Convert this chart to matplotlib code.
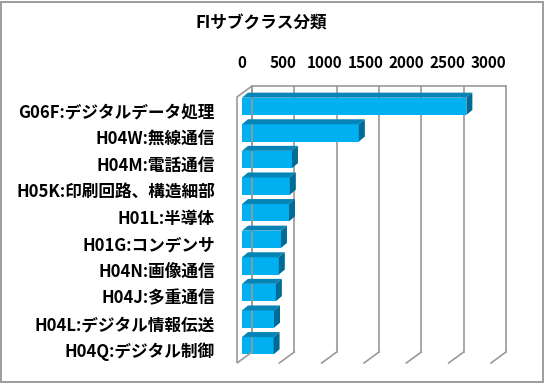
import matplotlib
matplotlib.use("Agg")
import matplotlib.pyplot as plt
import matplotlib.transforms as mtransforms
from matplotlib.patches import Polygon, Rectangle

plt.rcParams['font.family'] = ['Noto Sans CJK JP', 'DejaVu Sans']

categories = ["G06F:デジタルデータ処理", "H04W:無線通信", "H04M:電話通信",
              "H05K:印刷回路、構造細部", "H01L:半導体", "H01G:コンデンサ",
              "H04N:画像通信", "H04J:多重通信", "H04L:デジタル情報伝送",
              "H04Q:デジタル制御"]
counts = [2650, 1380, 590, 565, 555, 460, 435, 400, 378, 373]
ticks = [0, 500, 1000, 1500, 2000, 2500, 3000]
title = "FIサブクラス分類"

W, H = 544, 383
fig = plt.figure(figsize=(W / 100, H / 100), dpi=100)
ax = fig.add_axes([237 / W, 20 / H, 254 / W, 266 / H])
ax.set_xlim(0, 3000)
ax.set_ylim(len(categories) - 0.5, -0.5)
for s in ax.spines.values():
    s.set_visible(False)
ax.patch.set_visible(False)

# wall depth (back wall offset) and bar offsets, in pixels
wdx, wdy = 15, 11
bdx, bdy = 5, 4
ddx, ddy = 6, 5

grid_c = "#9a9a9a"
back = mtransforms.offset_copy(ax.transData, fig=fig, x=wdx, y=wdy, units='dots')
ylo, yhi = len(categories) - 0.5, -0.5

# back wall gridlines + top edge
for t in ticks:
    ax.plot([t, t], [ylo, yhi], color=grid_c, lw=1.2, transform=back, clip_on=False, zorder=1)
ax.plot([0, 3000], [yhi, yhi], color=grid_c, lw=1.2, transform=back, clip_on=False, zorder=1)


def disp(x, y, dx=0, dy=0):
    px, py = ax.transData.transform((x, y))
    return (px + dx, py + dy)


# floor diagonals
for t in ticks[1:]:
    a = disp(t, ylo)
    b = disp(t, ylo, wdx, wdy)
    fig.add_artist(plt.Line2D([a[0], b[0]], [a[1], b[1]], color=grid_c, lw=1.2,
                              transform=None, zorder=1))

# left side wall
lw_pts = [disp(0, yhi), disp(0, yhi, wdx, wdy), disp(0, ylo, wdx, wdy), disp(0, ylo)]
fig.add_artist(Polygon(lw_pts, closed=True, facecolor="none", edgecolor=grid_c,
                       lw=1.2, transform=None, zorder=1))

# bars
ypos = list(range(len(categories)))
bar_tf = mtransforms.offset_copy(ax.transData, fig=fig, x=bdx, y=bdy, units='dots')
h = 0.65
ax.barh(ypos, counts, height=h, color="#00b0f0", transform=bar_tf, zorder=3)
for y, v in zip(ypos, counts):
    x0, yb = disp(0, y + h / 2, bdx, bdy)
    x1, yt = disp(v, y - h / 2, bdx, bdy)
    top = [(x0, yt), (x1, yt), (x1 + ddx, yt + ddy), (x0 + ddx, yt + ddy)]
    side = [(x1, yt), (x1 + ddx, yt + ddy), (x1 + ddx, yb + ddy), (x1, yb)]
    fig.add_artist(Polygon(top, closed=True, facecolor="#0784b6", edgecolor="none",
                           transform=None, zorder=4))
    fig.add_artist(Polygon(side, closed=True, facecolor="#006c96", edgecolor="none",
                           transform=None, zorder=4))

ax.set_yticks(ypos)
ax.set_yticklabels(categories, fontsize=12, fontweight='bold')
ax.set_xticks(ticks)
ax.set_xticklabels([str(t) for t in ticks], fontsize=11, fontweight='bold')
ax.xaxis.tick_top()
ax.tick_params(axis='x', length=0, pad=19)
ax.tick_params(axis='y', length=0, pad=16)
# Excel puts the top labels slightly tighter than the gridlines
for i, lbl in enumerate(ax.get_xticklabels()):
    shift = mtransforms.ScaledTranslation((5 - 1.2 * i) / 100, 0, fig.dpi_scale_trans)
    lbl.set_transform(lbl.get_transform() + shift)

fig.text(261 / W, 1 - 23 / H, title, ha='center', va='center', fontsize=12, fontweight='bold')

fig.add_artist(Rectangle((1 / W, 1 / H), 542 / W, 380 / H, transform=fig.transFigure,
                         facecolor="none", edgecolor="#8c8c8c", lw=1.2))

fig.savefig("out.png", dpi=100)
